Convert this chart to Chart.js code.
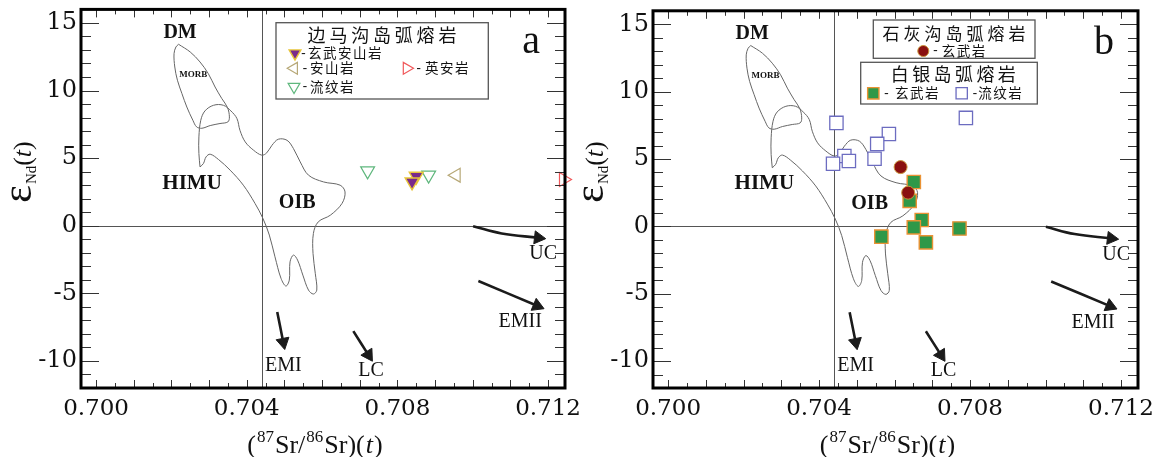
<!DOCTYPE html>
<html>
<head>
<meta charset="utf-8">
<script src="https://cdn.jsdelivr.net/npm/chart.js@4.4.1/dist/chart.umd.min.js"></script>
<style>
  html, body { margin: 0; padding: 0; background: #fff; }
  #wrap { position: relative; width: 1152px; height: 457px; overflow: hidden; }
  #wrap canvas { position: absolute; top: 0; }
</style>
</head>
<body>
<div id="wrap">
  <canvas id="panelA" width="584" height="457" style="left:0"></canvas>
  <canvas id="panelB" width="580" height="457" style="left:572px"></canvas>
</div>
<script>
// eNd(t) vs (87Sr/86Sr)(t), two panels.
const xTicks = [0.700, 0.704, 0.708, 0.712];
const yTicks = [-10, -5, 0, 5, 10, 15];

const suiteNames = ['边马沟岛弧熔岩', '石灰沟岛弧熔岩', '白银岛弧熔岩'];
const bmgNames = ['玄武安山岩', '安山岩', '英安岩', '流纹岩'];
const shgNames = ['玄武岩'];
const byNames = ['玄武岩', '流纹岩'];

// panel a -- 边马沟
const bmgBasalticAndesite = [{ x: 0.70850, y: 3.66 }, { x: 0.70839, y: 3.24 }];
const bmgAndesite = [{ x: 0.70956, y: 3.74 }];
const bmgDacite = [{ x: 0.71241, y: 3.42 }];
const bmgRhyolite = [{ x: 0.70721, y: 4.06 }, { x: 0.70883, y: 3.74 }];

// panel b -- 石灰沟 / 白银
const shgBasalt = [{ x: 0.70616, y: 4.40 }, { x: 0.70636, y: 2.50 }];
const byBasalt = [
  { x: 0.70651, y: 3.29 }, { x: 0.70640, y: 1.89 }, { x: 0.70672, y: 0.47 },
  { x: 0.70651, y: -0.08 }, { x: 0.70565, y: -0.77 }, { x: 0.70683, y: -1.19 },
  { x: 0.70772, y: -0.16 },
];
const byRhyolite = [
  { x: 0.70446, y: 7.68 }, { x: 0.70789, y: 8.05 }, { x: 0.70585, y: 6.86 },
  { x: 0.70554, y: 6.12 }, { x: 0.70467, y: 5.22 }, { x: 0.70479, y: 4.85 },
  { x: 0.70437, y: 4.65 }, { x: 0.70547, y: 5.02 },
];

// reference fields (outline)
const morbField = [
  { x: 0.70219, y: 13.42 }, { x: 0.70250, y: 12.85 }, { x: 0.70276, y: 12.11 }, { x: 0.70298, y: 11.25 },
  { x: 0.70316, y: 10.26 }, { x: 0.70334, y: 9.40 }, { x: 0.70349, y: 8.74 }, { x: 0.70354, y: 8.05 },
  { x: 0.70350, y: 7.68 }, { x: 0.70329, y: 7.56 }, { x: 0.70303, y: 7.41 }, { x: 0.70281, y: 7.21 },
  { x: 0.70267, y: 7.31 }, { x: 0.70257, y: 7.80 }, { x: 0.70241, y: 8.78 }, { x: 0.70228, y: 9.77 },
  { x: 0.70216, y: 10.76 }, { x: 0.70209, y: 11.74 }, { x: 0.70207, y: 12.73 }, { x: 0.70212, y: 13.22 },
];
const oibField = [
  { x: 0.70276, y: 4.35 }, { x: 0.70273, y: 5.34 }, { x: 0.70273, y: 6.57 }, { x: 0.70278, y: 7.80 },
  { x: 0.70289, y: 8.49 }, { x: 0.70312, y: 8.91 }, { x: 0.70338, y: 8.91 }, { x: 0.70358, y: 8.49 },
  { x: 0.70374, y: 7.93 }, { x: 0.70382, y: 7.06 }, { x: 0.70396, y: 6.20 }, { x: 0.70418, y: 5.59 },
  { x: 0.70440, y: 5.22 }, { x: 0.70453, y: 5.39 }, { x: 0.70467, y: 5.95 }, { x: 0.70484, y: 6.40 },
  { x: 0.70507, y: 6.32 }, { x: 0.70524, y: 5.71 }, { x: 0.70542, y: 4.72 }, { x: 0.70564, y: 3.74 },
  { x: 0.70604, y: 3.24 }, { x: 0.70648, y: 3.00 }, { x: 0.70661, y: 2.50 }, { x: 0.70653, y: 1.65 },
  { x: 0.70622, y: 0.78 }, { x: 0.70590, y: 0.29 }, { x: 0.70577, y: -0.57 }, { x: 0.70576, y: -2.05 },
  { x: 0.70582, y: -3.52 }, { x: 0.70586, y: -4.76 }, { x: 0.70577, y: -5.05 }, { x: 0.70564, y: -4.76 },
  { x: 0.70549, y: -3.65 }, { x: 0.70535, y: -2.54 }, { x: 0.70524, y: -2.17 }, { x: 0.70515, y: -2.67 },
  { x: 0.70513, y: -4.02 }, { x: 0.70504, y: -4.46 }, { x: 0.70491, y: -3.89 }, { x: 0.70475, y: -2.30 },
  { x: 0.70460, y: -0.69 }, { x: 0.70443, y: 0.54 }, { x: 0.70422, y: 1.65 }, { x: 0.70391, y: 3.00 },
  { x: 0.70356, y: 4.11 }, { x: 0.70325, y: 4.90 }, { x: 0.70303, y: 5.29 }, { x: 0.70292, y: 5.09 },
  { x: 0.70285, y: 4.60 },
];

// bulk earth cross lines
const bulkEarthSr = 0.7044;
const bulkEarthNd = 0;

// trend arrows (tail ... head)
const ucArrow = [{ x: 0.71001, y: -0.03 }, { x: 0.71077, y: -0.57 }, { x: 0.71174, y: -0.89 }];
const emiiArrow = [{ x: 0.71015, y: -4.09 }, { x: 0.71171, y: -5.92 }];
const emiArrow = [{ x: 0.70481, y: -6.38 }, { x: 0.70497, y: -8.61 }];
const lcArrow = [{ x: 0.70683, y: -7.79 }, { x: 0.70723, y: -9.55 }];

const fieldLabels = [
  { text: 'DM', x: 0.70223, y: 14.30 },
  { text: 'MORB', x: 0.70258, y: 11.20 },
  { text: 'HIMU', x: 0.70255, y: 3.15 },
  { text: 'OIB', x: 0.70534, y: 1.67 },
  { text: 'UC', x: 0.71187, y: -2.10 },
  { text: 'EMII', x: 0.71126, y: -7.12 },
  { text: 'EMI', x: 0.70497, y: -10.37 },
  { text: 'LC', x: 0.70730, y: -10.74 },
];
const panelLetterAt = { x: 0.71155, y: 13.56 };

const X_MIN = 0.6996, X_MAX = 0.71245, Y_MIN = -12, Y_MAX = 16;
const SERIF = '"Liberation Serif", "Times New Roman", serif';
const WIDE_SERIF = '"DejaVu Serif", "Liberation Serif", serif';
const CJK = '"Noto Sans CJK SC", "Noto Sans CJK JP", sans-serif';

const STY = {
  bmgBasalticAndesite: { pointStyle: 'triangle', rotation: 180, radius: 8, bg: '#7a2b8c', border: '#e8c53a', bw: 1.4 },
  bmgAndesite: { pointStyle: 'triangle', rotation: 270, radius: 8, bg: 'rgba(255,255,255,0)', border: '#b7a877', bw: 1.2 },
  bmgDacite: { pointStyle: 'triangle', rotation: 90, radius: 8, bg: 'rgba(255,255,255,0)', border: '#f0585a', bw: 1.2 },
  bmgRhyolite: { pointStyle: 'triangle', rotation: 180, radius: 8, bg: 'rgba(255,255,255,0)', border: '#5fb77d', bw: 1.2 },
  shgBasalt: { pointStyle: 'circle', rotation: 0, radius: 6.5, bg: '#8a1010', border: '#c9953c', bw: 1 },
  byBasalt: { pointStyle: 'rect', rotation: 0, radius: 9.4, bg: '#2f9848', border: '#ea9234', bw: 1.4 },
  byRhyolite: { pointStyle: 'rect', rotation: 0, radius: 9.4, bg: '#ffffff', border: '#6c6cc0', bw: 1.3 },
};

function pointSet(label, key, data, extra) {
  const s = STY[key];
  return Object.assign({
    label, data, order: 0, showLine: false,
    pointStyle: s.pointStyle, pointRotation: s.rotation, pointRadius: s.radius,
    pointBackgroundColor: s.bg, pointBorderColor: s.border, pointBorderWidth: s.bw,
  }, extra || {});
}

function fieldSet(label, data) {
  return {
    label, data: data.concat([data[0]]), order: 3, showLine: true, tension: 0.35,
    borderColor: '#666', borderWidth: 1, pointRadius: 0, fill: false,
  };
}

function arrowSet(label, data) {
  return {
    label, data, order: 1, showLine: true, tension: 0.4,
    borderColor: '#1b1b1b', borderWidth: 2.6, fill: false,
    pointStyle: 'triangle', pointBackgroundColor: '#1b1b1b', pointBorderColor: '#1b1b1b', pointBorderWidth: 1,
    pointRadius: c => c.dataIndex === c.dataset.data.length - 1 ? 7.5 : 0,
    pointRotation: c => {
      const d = c.dataset.data, n = d.length;
      const sx = c.chart.scales.x, sy = c.chart.scales.y;
      if (!sx || !sy || n < 2) return 0;
      const dx = sx.getPixelForValue(d[n - 1].x) - sx.getPixelForValue(d[n - 2].x);
      const dy = sy.getPixelForValue(d[n - 1].y) - sy.getPixelForValue(d[n - 2].y);
      return Math.atan2(dy, dx) * 180 / Math.PI + 90;
    },
  };
}

function richText(ctx, segs, x, y, angle) {
  ctx.save();
  ctx.translate(x, y);
  if (angle) ctx.rotate(angle);
  ctx.textAlign = 'left';
  ctx.textBaseline = 'alphabetic';
  ctx.fillStyle = '#111';
  let total = 0;
  segs.forEach(s => { ctx.font = s.font; s.w = ctx.measureText(s.t).width; total += s.w + (s.gap || 0); });
  let cx = -total / 2;
  segs.forEach(s => { ctx.font = s.font; ctx.fillText(s.t, cx, s.dy || 0); cx += s.w + (s.gap || 0); });
  ctx.restore();
}

function spacedChars(ctx, text, startX, y, pitch) {
  [...text].forEach((ch, i) => ctx.fillText(ch, startX + i * pitch, y));
}

function marker(ctx, key, x, y, scale) {
  const s = STY[key];
  ctx.save();
  ctx.fillStyle = s.bg;
  ctx.strokeStyle = s.border;
  ctx.lineWidth = s.bw;
  Chart.helpers.drawPoint(ctx, { pointStyle: s.pointStyle, rotation: s.rotation, radius: s.radius * scale, borderWidth: s.bw }, x, y);
  ctx.restore();
}

const LABEL_FONT = { DM: 'bold 20px', MORB: 'bold 9px', HIMU: 'bold 21px', OIB: 'bold 20px' };
const ITEM_SIZE = 13.5;

const decor = {
  id: 'decor',
  beforeDatasetsDraw(chart) {
    const { ctx, chartArea: a, scales: { x, y } } = chart;
    const px = Math.round(x.getPixelForValue(bulkEarthSr)) + 0.5;
    const py = Math.round(y.getPixelForValue(bulkEarthNd)) + 0.5;
    ctx.save();
    ctx.strokeStyle = '#555';
    ctx.lineWidth = 1;
    ctx.beginPath();
    ctx.moveTo(px, a.top); ctx.lineTo(px, a.bottom);
    ctx.moveTo(a.left, py); ctx.lineTo(a.right, py);
    ctx.stroke();
    ctx.restore();
  },
  afterDraw(chart, args, opts) {
    const { ctx, chartArea: a, scales: { x, y } } = chart;
    ctx.save();

    // field / end-member labels
    ctx.fillStyle = '#111';
    ctx.textAlign = 'center';
    ctx.textBaseline = 'middle';
    fieldLabels.forEach(l => {
      ctx.font = (LABEL_FONT[l.text] || '20px') + ' ' + SERIF;
      ctx.fillText(l.text, x.getPixelForValue(l.x), y.getPixelForValue(l.y));
    });
    ctx.font = '40px ' + SERIF;
    ctx.fillText(opts.letter, x.getPixelForValue(panelLetterAt.x), y.getPixelForValue(panelLetterAt.y));

    // legend boxes
    opts.legends.forEach(lg => {
      const [l, t, r, b] = lg.box;
      ctx.fillStyle = '#fff';
      ctx.fillRect(l, t, r - l, b - t);
      ctx.strokeStyle = '#555';
      ctx.lineWidth = 1.3;
      ctx.strokeRect(l, t, r - l, b - t);
      ctx.fillStyle = '#111';
      ctx.textAlign = 'center';
      ctx.textBaseline = 'middle';
      ctx.font = lg.titleSize + 'px ' + CJK;
      const n = [...lg.title].length;
      spacedChars(ctx, lg.title, lg.titleX - (n - 1) / 2 * lg.pitch, lg.titleY, lg.pitch);
      lg.items.forEach(it => {
        marker(ctx, it.series, it.x, it.y, 0.85);
        ctx.fillStyle = '#111';
        ctx.textAlign = 'center';
        ctx.font = 'bold 13px ' + SERIF;
        ctx.fillText('-', it.x + it.dashDx, it.y);
        ctx.font = ITEM_SIZE + 'px ' + CJK;
        spacedChars(ctx, it.name, it.x + it.textDx + ITEM_SIZE / 2, it.y, 15);
      });
    });

    // inward ticks on all four sides
    ctx.strokeStyle = '#333';
    ctx.lineWidth = 1;
    ctx.beginPath();
    for (let v = Math.ceil(y.min); v <= Math.floor(y.max); v++) {
      const p = Math.round(y.getPixelForValue(v)) + 0.5;
      const len = yTicks.includes(v) ? 18 : 10;
      ctx.moveTo(a.left, p); ctx.lineTo(a.left + len, p);
      ctx.moveTo(a.right, p); ctx.lineTo(a.right - len, p);
    }
    for (let i = Math.ceil(x.min / 0.0005 - 1e-6); i * 0.0005 <= x.max + 1e-9; i++) {
      const p = Math.round(x.getPixelForValue(i * 0.0005)) + 0.5;
      const len = i % 2 === 0 ? 8 : 5;
      ctx.moveTo(p, a.bottom); ctx.lineTo(p, a.bottom - len);
      ctx.moveTo(p, a.top); ctx.lineTo(p, a.top + len);
    }
    ctx.stroke();

    // frame
    ctx.strokeStyle = '#000';
    ctx.lineWidth = 3;
    ctx.strokeRect(a.left, a.top, a.right - a.left, a.bottom - a.top);
    ctx.restore();

    // axis titles
    richText(ctx, [
      { t: '(', font: '26px ' + SERIF, gap: 1 },
      { t: '87', font: '17px ' + SERIF, dy: -11, gap: 1 },
      { t: 'Sr/', font: '26px ' + SERIF, gap: 1 },
      { t: '86', font: '17px ' + SERIF, dy: -11, gap: 1 },
      { t: 'Sr)(', font: '26px ' + SERIF, gap: 1 },
      { t: 't', font: 'italic 26px ' + SERIF, gap: 1 },
      { t: ')', font: '26px ' + SERIF },
    ], (a.left + a.right) / 2 - 8, 453, 0);
    richText(ctx, [
      { t: 'ε', font: '42px ' + SERIF, gap: 1 },
      { t: 'Nd', font: '15px ' + SERIF, dy: 5 },
      { t: '(', font: '26px ' + SERIF },
      { t: 't', font: 'italic 26px ' + SERIF },
      { t: ')', font: '26px ' + SERIF },
    ], 31, 172, -Math.PI / 2);
  },
};

function makePanel(id, datasets, rightPad, decorOpts) {
  return new Chart(document.getElementById(id), {
    type: 'scatter',
    data: { datasets },
    options: {
      responsive: false,
      maintainAspectRatio: false,
      animation: false,
      devicePixelRatio: 1,
      layout: { padding: { left: 0, top: 9, right: rightPad, bottom: 0 } },
      plugins: { legend: { display: false }, tooltip: { enabled: false }, decor: decorOpts },
      scales: {
        x: {
          type: 'linear', min: X_MIN, max: X_MAX,
          afterBuildTicks: s => { s.ticks = xTicks.map(v => ({ value: v })); },
          ticks: {
            callback: v => Number(v).toFixed(3), autoSkip: false, maxRotation: 0,
            font: { family: WIDE_SERIF, size: 23 }, color: '#111', padding: 7,
          },
          grid: { display: false, drawTicks: false },
          border: { display: false },
          afterFit: s => { s.height = 69; s.paddingLeft = 0; s.paddingRight = 0; },
        },
        y: {
          type: 'linear', min: Y_MIN, max: Y_MAX,
          afterBuildTicks: s => { s.ticks = yTicks.map(v => ({ value: v })); },
          ticks: {
            callback: v => String(v), autoSkip: false,
            font: { family: WIDE_SERIF, size: 24 }, color: '#111', padding: 4,
          },
          grid: { display: false, drawTicks: false },
          border: { display: false },
          afterFit: s => { s.width = 81; s.paddingTop = 0; s.paddingBottom = 0; },
        },
      },
    },
    plugins: [decor],
  });
}

makePanel('panelA', [
  pointSet(bmgNames[0], 'bmgBasalticAndesite', bmgBasalticAndesite),
  pointSet(bmgNames[1], 'bmgAndesite', bmgAndesite),
  pointSet(bmgNames[2], 'bmgDacite', bmgDacite, { clip: false }),
  pointSet(bmgNames[3], 'bmgRhyolite', bmgRhyolite),
  arrowSet('UC', ucArrow), arrowSet('EMII', emiiArrow), arrowSet('EMI', emiArrow), arrowSet('LC', lcArrow),
  fieldSet('DM-MORB', morbField), fieldSet('OIB', oibField),
], 19, {
  letter: 'a',
  legends: [{
    box: [276, 22.7, 488.3, 99], title: suiteNames[0], titleX: 382, titleY: 35, titleSize: 18, pitch: 21.8,
    items: [
      { series: 'bmgBasalticAndesite', name: bmgNames[0], x: 295, y: 53.3, dashDx: 8.5, textDx: 13 },
      { series: 'bmgAndesite', name: bmgNames[1], x: 294, y: 68.3, dashDx: 11, textDx: 16 },
      { series: 'bmgDacite', name: bmgNames[2], x: 406.7, y: 68.3, dashDx: 12, textDx: 18.3 },
      { series: 'bmgRhyolite', name: bmgNames[3], x: 294, y: 86.7, dashDx: 11, textDx: 16 },
    ],
  }],
});

makePanel('panelB', [
  pointSet(shgNames[0], 'shgBasalt', shgBasalt),
  pointSet(byNames[0], 'byBasalt', byBasalt),
  pointSet(byNames[1], 'byRhyolite', byRhyolite),
  arrowSet('UC', ucArrow), arrowSet('EMII', emiiArrow), arrowSet('EMI', emiArrow), arrowSet('LC', lcArrow),
  fieldSet('DM-MORB', morbField), fieldSet('OIB', oibField),
], 14, {
  letter: 'b',
  legends: [
    {
      box: [301.3, 20, 463, 58.3], title: suiteNames[1], titleX: 382, titleY: 33.3, titleSize: 17, pitch: 21,
      items: [{ series: 'shgBasalt', name: shgNames[0], x: 351.3, y: 51, dashDx: 12, textDx: 18.4 }],
    },
    {
      box: [288.7, 62.3, 465.3, 104], title: suiteNames[2], titleX: 381.3, titleY: 74.3, titleSize: 18, pitch: 21.4,
      items: [
        { series: 'byBasalt', name: byNames[0], x: 301.3, y: 93.3, dashDx: 13, textDx: 21.7 },
        { series: 'byRhyolite', name: byNames[1], x: 389.7, y: 93.3, dashDx: 13.3, textDx: 16.6 },
      ],
    },
  ],
});
</script>
</body>
</html>
